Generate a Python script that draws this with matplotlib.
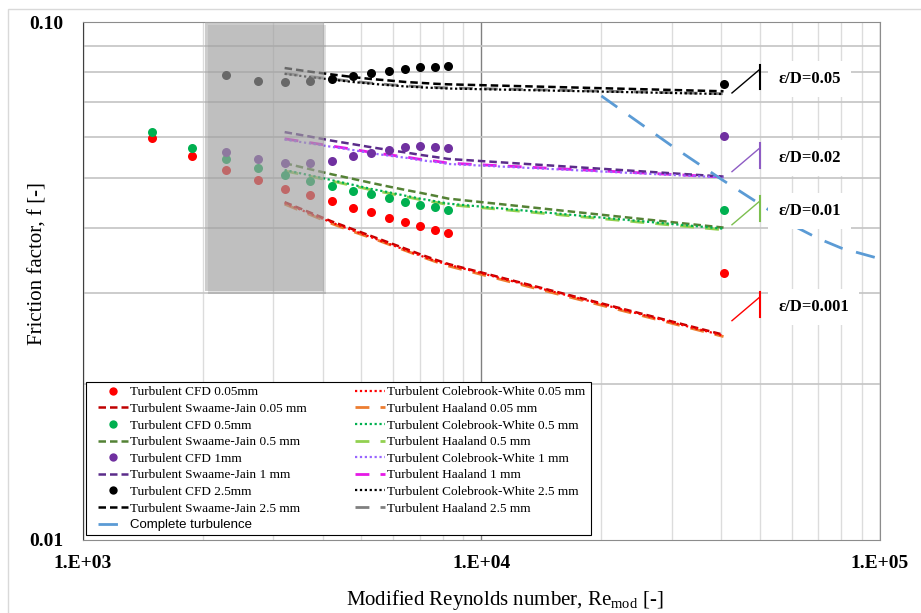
import matplotlib
matplotlib.use("Agg")
import matplotlib.pyplot as plt
import matplotlib.ticker as mticker
import matplotlib.patheffects as pe
from matplotlib.lines import Line2D
from matplotlib.patches import Rectangle

plt.rcParams['font.family'] = ['Liberation Serif', 'DejaVu Serif']
plt.rcParams['mathtext.fontset'] = 'custom'
plt.rcParams['mathtext.rm'] = 'Liberation Serif'

# Reynolds numbers of the CFD runs
re_cfd = [1490, 1880, 2290, 2750, 3210, 3710, 4220, 4760, 5300, 5870, 6450, 7030, 7640, 8270, 40500]
re_cfd_hi = re_cfd[2:]   # 1 mm and 2.5 mm start here
re_corr = re_cfd[4:]     # correlations start here

# CFD friction factors
f_cfd_005 = [0.0598, 0.0551, 0.0518, 0.0495, 0.0477, 0.0463, 0.0451, 0.0438, 0.0430,
             0.0419, 0.0411, 0.0403, 0.0397, 0.0391, 0.0327]
f_cfd_05 = [0.0612, 0.0571, 0.0543, 0.0523, 0.0507, 0.0493, 0.0483, 0.0472, 0.0465,
            0.0457, 0.0449, 0.0443, 0.0439, 0.0434, 0.0433]
f_cfd_1 = [0.0560, 0.0545, 0.0534, 0.0534, 0.0540, 0.0551, 0.0559, 0.0567, 0.0573,
           0.0575, 0.0574, 0.0572, 0.0602]
f_cfd_25 = [0.0791, 0.0768, 0.0765, 0.0769, 0.0776, 0.0785, 0.0796, 0.0804, 0.0812,
            0.0818, 0.0819, 0.0822, 0.0758]

# Swamee-Jain
f_sj_005 = [0.0449, 0.0429, 0.0412, 0.0398, 0.0386, 0.0375, 0.0365, 0.0356, 0.0348, 0.0341, 0.0249]
f_sj_05 = [0.0534, 0.0520, 0.0508, 0.0498, 0.0489, 0.0481, 0.0474, 0.0468, 0.0462, 0.0456, 0.0401]
f_sj_1 = [0.0613, 0.0601, 0.0590, 0.0581, 0.0573, 0.0566, 0.0560, 0.0554, 0.0549, 0.0544, 0.0503]
f_sj_25 = [0.0815, 0.0802, 0.0792, 0.0783, 0.0776, 0.0771, 0.0766, 0.0763, 0.0760, 0.0758, 0.0735]

# Colebrook-White
f_cw_005 = [0.0447, 0.0427, 0.0410, 0.0396, 0.0384, 0.0373, 0.0363, 0.0354, 0.0346, 0.0340, 0.0248]
f_cw_05 = [0.0518, 0.0506, 0.0495, 0.0485, 0.0476, 0.0469, 0.0462, 0.0456, 0.0451, 0.0446, 0.0399]
f_cw_1 = [0.0593, 0.0583, 0.0574, 0.0566, 0.0558, 0.0552, 0.0547, 0.0541, 0.0537, 0.0532, 0.0501]
f_cw_25 = [0.0794, 0.0783, 0.0774, 0.0766, 0.0760, 0.0755, 0.0751, 0.0748, 0.0746, 0.0744, 0.0726]

# Haaland
f_ha_005 = [0.0445, 0.0425, 0.0408, 0.0394, 0.0383, 0.0372, 0.0362, 0.0353, 0.0345, 0.0338, 0.0247]
f_ha_05 = [0.0516, 0.0504, 0.0493, 0.0483, 0.0474, 0.0467, 0.0460, 0.0454, 0.0449, 0.0444, 0.0397]
f_ha_1 = [0.0595, 0.0585, 0.0576, 0.0568, 0.0560, 0.0554, 0.0549, 0.0543, 0.0539, 0.0534, 0.0502]
f_ha_25 = [0.0796, 0.0785, 0.0776, 0.0768, 0.0762, 0.0757, 0.0753, 0.0750, 0.0748, 0.0746, 0.0727]

# complete turbulence boundary
re_ct = [20000, 30000, 40000, 50000, 60000, 70000, 80000, 100000]
f_ct = [0.0720, 0.0577, 0.0497, 0.0445, 0.0406, 0.0382, 0.0366, 0.0349]

# roughness labels
rough_labels = ['ε/D=0.05', 'ε/D=0.02', 'ε/D=0.01', 'ε/D=0.001']
rough_f = [0.0776, 0.0547, 0.0432, 0.0282]
rough_colors = ['black', '#8e5cc4', '#7cbf4f', 'red']
label_re = 50000

# shaded transition band
band_re = (2030, 4020)
band_f = (0.0302, 0.1)

fig = plt.figure(figsize=(9.21, 6.13), dpi=100)
ax = fig.add_axes([0.0898, 0.1191, 0.8657, 0.845])

# light chart-area border
fig.patches.append(Rectangle((8 / 921, -0.1), 1.2, 1 - 9 / 613 + 0.1, transform=fig.transFigure,
                             fill=False, edgecolor='#d9d9d9', lw=1))

sj = (0, (3, 1.6))
ha = (0, (5, 4))
cw = (0, (1, 1.2))

series = [
    (f_sj_005, f_cw_005, f_ha_005, '#c00000', '#ff0000', '#ed7d31'),
    (f_sj_05, f_cw_05, f_ha_05, '#548235', '#00b050', '#92d050'),
    (f_sj_1, f_cw_1, f_ha_1, '#5b2c8a', '#9966ff', '#e619e6'),
    (f_sj_25, f_cw_25, f_ha_25, 'black', 'black', '#808080'),
]
for f_sj, f_cw, f_ha, c_sj, c_cw, c_ha in series:
    ax.plot(re_corr, f_ha, color=c_ha, ls=ha, lw=2, zorder=2)
    ax.plot(re_corr, f_sj, color=c_sj, ls=sj, lw=1.8, zorder=2)
    ax.plot(re_corr, f_cw, color=c_cw, ls=cw, lw=1.6, zorder=2)

ax.plot(re_ct, f_ct, color='#5b9bd5', ls=(0, (7, 5)), lw=2, zorder=2)

ms = 6.5
ax.plot(re_cfd, f_cfd_005, 'o', color='#ff0000', ms=ms, mec='none', zorder=3)
ax.plot(re_cfd, f_cfd_05, 'o', color='#00b050', ms=ms, mec='none', zorder=3)
ax.plot(re_cfd_hi, f_cfd_1, 'o', color='#7030a0', ms=ms, mec='none', zorder=3)
ax.plot(re_cfd_hi, f_cfd_25, 'o', color='black', ms=ms, mec='none', zorder=3)

band = Rectangle((band_re[0], band_f[0]), band_re[1] - band_re[0], band_f[1] - band_f[0],
                 facecolor='#aaaaaa', alpha=0.6, edgecolor='none', zorder=4)
band.set_path_effects([pe.SimplePatchShadow(offset=(2, -2), alpha=0.15), pe.Normal()])
ax.add_patch(band)

# callouts
for lab, fl, col in zip(rough_labels, rough_f, rough_colors):
    ax.plot([re_corr[-1] * 1.05, label_re], [fl * 0.94, fl * 1.045], color=col, lw=1, zorder=5)
    ax.plot([label_re, label_re], [fl * 0.956, fl * 1.066], color=col, lw=1.5, zorder=5)
    ax.text(label_re * 1.11, fl, lab, fontsize=12, fontweight='bold', va='center', ha='left',
            zorder=6, bbox=dict(boxstyle='square,pad=0.6', facecolor='white', edgecolor='none'))

ax.set_xscale('log')
ax.set_yscale('log')
ax.set_xlim(1000, 100000)
ax.set_ylim(0.01, 0.1)
ax.set_xticks([1e3, 1e4, 1e5], labels=['1.E+03', '1.E+04', '1.E+05'], fontweight='bold')
ax.set_yticks([0.01, 0.1], labels=['0.01', '0.10'], fontweight='bold')
ax.xaxis.set_minor_locator(mticker.LogLocator(subs=range(2, 10)))
ax.yaxis.set_minor_locator(mticker.LogLocator(subs=range(2, 10)))
ax.xaxis.set_minor_formatter(mticker.NullFormatter())
ax.yaxis.set_minor_formatter(mticker.NullFormatter())
ax.tick_params(which='both', length=0)
ax.tick_params(axis='y', labelsize=14, pad=14)
ax.tick_params(axis='x', labelsize=14, pad=11)

ax.grid(which='minor', axis='x', color='#dcdcdc', lw=1)
ax.grid(which='minor', axis='y', color='#c4c4c4', lw=1.2)
ax.grid(which='major', axis='x', color='#808080', lw=1)
ax.set_axisbelow(True)
for s in ax.spines.values():
    s.set_color('#8c8c8c')
ax.spines['left'].set_color('#404040')

ax.set_ylabel('Friction factor, f [-]', fontsize=15)
ax.yaxis.set_label_coords(-0.0445, 0.534)
ax.set_xlabel('Modified Reynolds number, Re$_{\\mathrm{mod}}$ [-]', fontsize=15)
ax.xaxis.set_label_coords(0.53, -0.092)

handles = [
    Line2D([], [], ls='none', marker='o', color='#ff0000', mec='none', ms=6),
    Line2D([], [], color='#c00000', ls=sj, lw=1.8),
    Line2D([], [], ls='none', marker='o', color='#00b050', mec='none', ms=6),
    Line2D([], [], color='#548235', ls=sj, lw=1.8),
    Line2D([], [], ls='none', marker='o', color='#7030a0', mec='none', ms=6),
    Line2D([], [], color='#5b2c8a', ls=sj, lw=1.8),
    Line2D([], [], ls='none', marker='o', color='black', mec='none', ms=6),
    Line2D([], [], color='black', ls=sj, lw=1.8),
    Line2D([], [], color='#5b9bd5', ls=(0, (7, 5)), lw=2),
    Line2D([], [], color='#ff0000', ls=cw, lw=1.6),
    Line2D([], [], color='#ed7d31', ls=ha, lw=2),
    Line2D([], [], color='#00b050', ls=cw, lw=1.6),
    Line2D([], [], color='#92d050', ls=ha, lw=2),
    Line2D([], [], color='#9966ff', ls=cw, lw=1.6),
    Line2D([], [], color='#e619e6', ls=ha, lw=2),
    Line2D([], [], color='black', ls=cw, lw=1.6),
    Line2D([], [], color='#808080', ls=ha, lw=2),
]
labels = [
    'Turbulent CFD 0.05mm', 'Turbulent Swaame-Jain 0.05 mm',
    'Turbulent CFD 0.5mm', 'Turbulent Swaame-Jain 0.5 mm',
    'Turbulent CFD 1mm', 'Turbulent Swaame-Jain 1 mm',
    'Turbulent CFD 2.5mm', 'Turbulent Swaame-Jain 2.5 mm',
    'Complete turbulence',
    'Turbulent Colebrook-White 0.05 mm', 'Turbulent Haaland 0.05 mm',
    'Turbulent Colebrook-White 0.5 mm', 'Turbulent Haaland 0.5 mm',
    'Turbulent Colebrook-White 1 mm', 'Turbulent Haaland 1 mm',
    'Turbulent Colebrook-White 2.5 mm', 'Turbulent Haaland 2.5 mm',
]

# legend frame drawn separately so the handles can sit further in
ax.add_patch(Rectangle((0.0041, 0.0106), 0.634, 0.2936, transform=ax.transAxes,
                       facecolor='white', edgecolor='black', lw=0.8, zorder=6))
leg = ax.legend(handles, labels, ncol=2, loc='lower left', bbox_to_anchor=(0.0192, 0.017),
                fontsize=9.5, frameon=False, labelspacing=0.33, handlelength=2.3,
                handletextpad=0.15, columnspacing=3.6, borderpad=0, borderaxespad=0)
leg.set_zorder(7)
for t in leg.get_texts():
    if t.get_text() == 'Complete turbulence':
        t.set_fontfamily(['Liberation Sans Narrow', 'Liberation Sans'])

fig.savefig('out.png', dpi=100)
